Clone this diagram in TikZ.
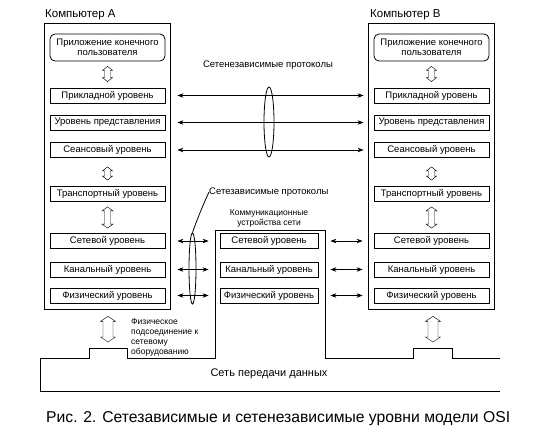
\documentclass[tikz,border=0pt]{standalone}
\usepackage{fontspec}
\setmainfont{Liberation Sans}
\usetikzlibrary{arrows.meta,shapes.geometric,calc}
\begin{document}
\begin{tikzpicture}[x=1pt,y=-1pt,
  every node/.style={font=\fontsize{9.5}{10}\selectfont, inner sep=0pt},
  small/.style={font=\fontsize{8.5}{10}\selectfont},
  layer/.style={draw, line width=0.8pt, minimum width=115pt, minimum height=15pt},
  devlayer/.style={draw, line width=0.8pt, minimum width=98pt, minimum height=15pt},
  comp/.style={draw, line width=0.8pt, minimum width=126pt, minimum height=286pt},
  appbox/.style={draw, line width=0.8pt, rounded corners=5pt, minimum width=115pt, minimum height=27pt, align=center},
  hollow/.style n args={5}{line width=0.7pt, line join=round, to path={
    let \p1=(\tikztostart), \p2=(\tikztotarget) in
    (\x1,{\y1-#1}) -- ({\x1+#3},{\y1-#1-#5}) -- ({\x1+#4},{\y1-#1-#5}) --
    ({\x1+#4},{\y2+#2+#5}) -- ({\x1+#3},{\y2+#2+#5}) -- (\x1,{\y2+#2}) --
    ({\x1-#3},{\y2+#2+#5}) -- ({\x1-#4},{\y2+#2+#5}) --
    ({\x1-#4},{\y1-#1-#5}) -- ({\x1-#3},{\y1-#1-#5}) -- cycle}},
  harrow/.style={line width=0.8pt, {Stealth[length=6pt,width=4.5pt]}-{Stealth[length=6pt,width=4.5pt]}},
  lens/.style={draw, ellipse, line width=0.8pt, inner sep=0pt},
  plain/.style={line width=0.8pt},
]
\useasboundingbox (0,0) rectangle (549,444);

% computers
\node[comp] (compA) at (107,166) {};
\node[comp] (compB) at (431.5,166) {};
\node[anchor=west, font=\fontsize{11.5}{12}\selectfont] (labA) at (45,15) {Компьютер А};
\node[anchor=west, font=\fontsize{11.5}{12}\selectfont] (labB) at (370,15) {Компьютер В};

% layers A
\node[appbox] (appA) at (107.5,47.5) {Приложение конечного\\пользователя};
\node[layer] (prA) at (107.5,95.5) {Прикладной уровень};
\node[layer] (predA) at (107.5,122.5) {Уровень представления};
\node[layer] (seA) at (107.5,150) {Сеансовый уровень};
\node[layer] (trA) at (107.5,194) {Транспортный уровень};
\node[layer] (netA) at (107.5,241) {Сетевой уровень};
\node[layer] (chA) at (107.5,269.5) {Канальный уровень};
\node[layer] (phA) at (107.5,295.5) {Физический уровень};

% layers B
\node[appbox] (appB) at (431.5,47.5) {Приложение конечного\\пользователя};
\node[layer] (prB) at (431.5,95.5) {Прикладной уровень};
\node[layer] (predB) at (431.5,122.5) {Уровень представления};
\node[layer] (seB) at (431.5,150) {Сеансовый уровень};
\node[layer] (trB) at (431.5,194) {Транспортный уровень};
\node[layer] (netB) at (431.5,241) {Сетевой уровень};
\node[layer] (chB) at (431.5,269.5) {Канальный уровень};
\node[layer] (phB) at (431.5,295.5) {Физический уровень};

% device layers
\node[devlayer] (netD) at (269,241) {Сетевой уровень};
\node[devlayer] (chD) at (269,269.5) {Канальный уровень};
\node[devlayer] (phD) at (269,295.5) {Физический уровень};
\node[small, align=center] (devlab) at (269,218.5) {Коммуникационные\\устройства сети};

% device outline and network
\draw[plain] (500,358) -- (452,358) -- (452,348) -- (413,348) -- (413,358) -- (325,358)
  -- (325,230) -- (215,230) -- (215,358) -- (127,358) -- (127,348) -- (89,348)
  -- (89,358) -- (40,358) -- (40,391) -- (500,391);
\node[font=\fontsize{11}{12}\selectfont] (netlab) at (269,374) {Сеть передачи данных};
\coordinate (stepA) at (108,348);
\coordinate (stepB) at (433,348);

% vertical hollow arrows
\foreach \s in {A,B}{
  \draw (app\s.south) to[hollow={5pt}{6pt}{5pt}{3pt}{4pt}] (pr\s.north);
  \draw (se\s.south) to[hollow={9pt}{6pt}{5pt}{3pt}{4pt}] (tr\s.north);
  \draw (tr\s.south) to[hollow={5pt}{5pt}{5.5pt}{3pt}{4pt}] (net\s.north);
}
\draw (compA.south -| stepA) to[hollow={7pt}{6pt}{7.5pt}{5pt}{5pt}] (stepA);
\draw (compB.south -| stepB) to[hollow={7pt}{6pt}{7.5pt}{5pt}{5pt}] (stepB);

% upper protocol arrows
\draw[harrow, shorten <=12pt, shorten >=10pt] (prA.east) -- (prB.west);
\draw[harrow, shorten <=12pt, shorten >=10pt] (predA.east) -- (predB.west);
\draw[harrow, shorten <=12pt, shorten >=10pt] (seA.east) -- (seB.west);
\node[lens, minimum width=10pt, minimum height=70pt] (lens1) at (269,122) {};
\node (indep) at (268,65) {Сетенезависимые протоколы};

% lower protocol arrows
\draw[harrow, shorten <=12pt, shorten >=11pt] (netA.east) -- (netD.west);
\draw[harrow, shorten <=12pt, shorten >=11pt] (chA.east) -- (chD.west);
\draw[harrow, shorten <=12pt, shorten >=11pt] (phA.east) -- (phD.west);
\draw[harrow, shorten <=12pt, shorten >=11pt] (netD.east) -- (netB.west);
\draw[harrow, shorten <=12pt, shorten >=11pt] (chD.east) -- (chB.west);
\draw[harrow, shorten <=12pt, shorten >=11pt] (phD.east) -- (phB.west);
\node[lens, minimum width=7pt, minimum height=71pt] (lens2) at (192.5,268.5) {};
\node[anchor=west] (dep) at (209,192) {Сетезависимые протоколы};
\draw[plain] (lens2.north) .. controls (196,222) and (203,205) .. (dep.west);

% physical connection text
\node[small, anchor=north west, align=left] (phys) at (131,318) {Физическое\\подсоединение к\\сетевому\\оборудованию};

% caption
\node[anchor=west, font=\fontsize{15.7}{17}\selectfont] (cap) at (46,419) {Рис. 2. Сетезависимые и сетенезависимые уровни модели OSI};
\end{tikzpicture}
\end{document}
